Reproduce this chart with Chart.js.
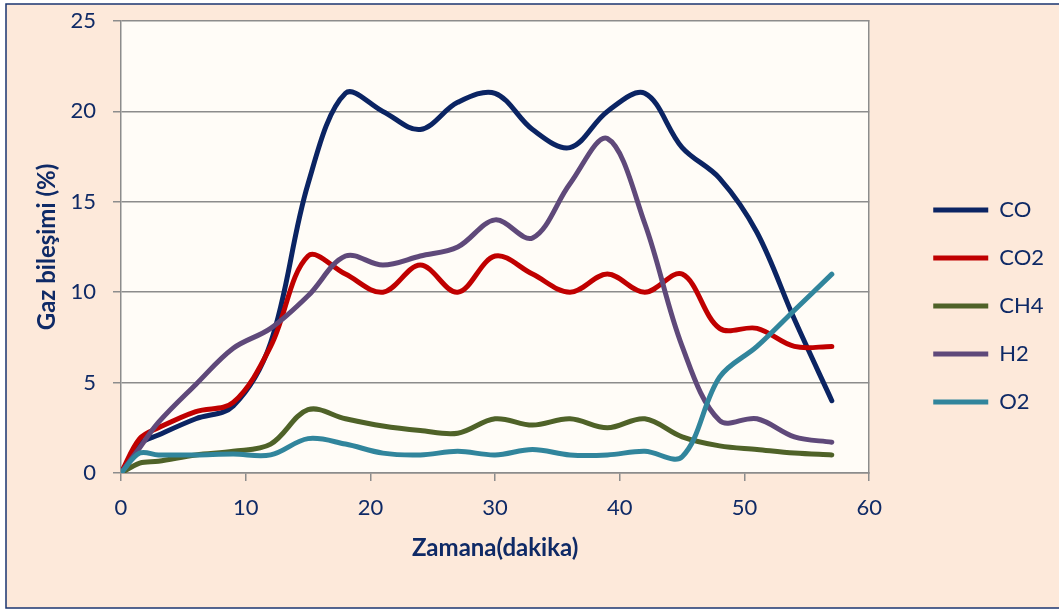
<!DOCTYPE html>
<html>
<head>
<meta charset="utf-8">
<script src="https://cdn.jsdelivr.net/npm/chart.js@4.4.1/dist/chart.umd.min.js"></script>
<style>
  html, body { margin: 0; padding: 0; background: #ffffff; }
  #wrap { width: 1059px; height: 610px; }
</style>
</head>
<body>
<div id="wrap"><canvas id="c" width="1059" height="610"></canvas></div>
<script>
// ---- data ----
const minutes = [0, 1.5, 3, 6, 9, 12, 15, 18, 21, 24, 27, 30, 33, 36, 39, 42, 45, 48, 51, 54, 57];
const seriesNames = ["CO", "CO2", "CH4", "H2", "O2"];
const CO  = [0, 1.6, 2.1, 3.0, 3.7, 7.2, 16, 21, 20, 19, 20.5, 21, 19, 18, 20, 21, 18, 16.3, 13.3, 8.5, 4];
const CO2 = [0, 1.9, 2.5, 3.4, 3.9, 7.0, 12, 11, 10, 11.5, 10, 12, 11, 10, 11, 10, 11, 8, 8, 7, 7];
const CH4 = [0, 0.55, 0.65, 1.0, 1.2, 1.6, 3.5, 3.0, 2.6, 2.35, 2.2, 3.0, 2.65, 3.0, 2.5, 3.0, 2.0, 1.5, 1.3, 1.1, 1.0];
const H2  = [0, 1.4, 2.8, 4.9, 6.9, 8.0, 9.8, 12, 11.5, 12, 12.5, 14, 13, 16, 18.5, 13.8, 7, 2.9, 3.0, 2.0, 1.7];
const O2  = [0, 1.1, 1.0, 1.0, 1.05, 1.0, 1.9, 1.6, 1.1, 1.0, 1.2, 1.0, 1.3, 1.0, 1.0, 1.2, 0.9, 5.3, 7.0, 9.0, 11];
const xTicks = [0, 10, 20, 30, 40, 50, 60];
const yTicks = [0, 5, 10, 15, 20, 25];
const xTitle = "Zamana(dakika)";
const yTitle = "Gaz bileşimi (%)";

const colors = ["#0B2463", "#C00000", "#4F6228", "#5F497A", "#31859C"];
const values = [CO, CO2, CH4, H2, O2];

const NAVY = "#0F2A66";
const GRID = "#8C8C8C";
const FONT = "Lato";

const datasets = seriesNames.map((name, i) => ({
  label: name,
  data: minutes.map((m, j) => ({ x: m, y: values[i][j] })),
  borderColor: colors[i],
  backgroundColor: colors[i],
  borderWidth: 5,
  pointRadius: 0,
  pointHoverRadius: 0,
  tension: 0.35,
  fill: false,
  borderCapStyle: "round",
  borderJoinStyle: "round",
  order: seriesNames.length - i
}));

const bgPlugin = {
  id: "bg",
  beforeDraw(chart) {
    const ctx = chart.ctx;
    const a = chart.chartArea;
    ctx.save();
    ctx.fillStyle = "#ffffff";
    ctx.fillRect(0, 0, chart.width, chart.height);
    ctx.fillStyle = "#FDE9DA";
    ctx.fillRect(6, 4, chart.width, 604);
    ctx.strokeStyle = "#1A3570";
    ctx.lineWidth = 1.5;
    ctx.strokeRect(6, 4, chart.width + 10, 604);
    ctx.fillStyle = "#FFFCF7";
    ctx.fillRect(a.left, a.top, a.right - a.left, a.bottom - a.top);
    ctx.restore();
  }
};

function noPad(s) {
  s.paddingTop = 0; s.paddingBottom = 0; s.paddingLeft = 0; s.paddingRight = 0;
}

new Chart(document.getElementById("c"), {
  type: "line",
  data: { datasets },
  plugins: [bgPlugin],
  options: {
    responsive: false,
    devicePixelRatio: 1,
    animation: false,
    events: [],
    layout: { padding: { top: 21, left: 0, right: 5, bottom: 19 } },
    plugins: {
      tooltip: { enabled: false },
      legend: {
        position: "right",
        align: "center",
        labels: {
          usePointStyle: true,
          pointStyle: "line",
          pointStyleWidth: 55,
          padding: 26,
          color: NAVY,
          font: { family: FONT, size: 22 },
          sort: (a, b) => a.datasetIndex - b.datasetIndex
        }
      }
    },
    scales: {
      x: {
        type: "linear",
        position: "bottom",
        min: 0, max: 60,
        afterBuildTicks: (s) => { s.ticks = xTicks.map(v => ({ value: v })); },
        afterFit: (s) => { s.height = 610 - 19 - 473; noPad(s); },
        ticks: { color: NAVY, font: { family: FONT, size: 22 }, padding: 14, maxRotation: 0 },
        grid: { display: true, drawOnChartArea: false, drawTicks: true, tickLength: 8, color: GRID, lineWidth: 1.5 },
        border: { display: true, color: GRID, width: 1.5 },
        title: { display: true, text: xTitle, color: NAVY, font: { family: FONT, size: 24, weight: "bold" }, padding: { top: 0, bottom: 28 } }
      },
      y: {
        type: "linear",
        position: "left",
        min: 0, max: 25,
        afterBuildTicks: (s) => { s.ticks = yTicks.map(v => ({ value: v })); },
        afterFit: (s) => { s.width = 121; noPad(s); },
        ticks: { color: NAVY, font: { family: FONT, size: 22 }, padding: 17 },
        grid: { display: true, drawOnChartArea: true, drawTicks: true, tickLength: 8, color: GRID, lineWidth: 1.5 },
        border: { display: true, color: GRID, width: 1.5 },
        title: { display: true, text: yTitle, color: NAVY, font: { family: FONT, size: 24, weight: "bold" }, padding: { top: 33, bottom: 0 } }
      },
      yRight: {
        type: "linear",
        position: "right",
        min: 0, max: 25,
        afterFit: (s) => { s.width = 38; noPad(s); },
        ticks: { display: false },
        grid: { display: false },
        border: { display: true, color: GRID, width: 1.5 }
      }
    }
  }
});
</script>
</body>
</html>
